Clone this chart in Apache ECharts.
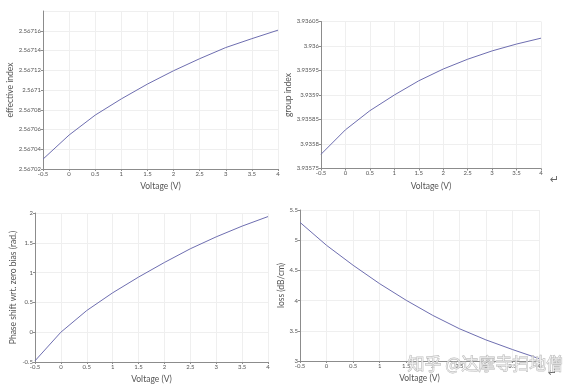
<!DOCTYPE html>
<html><head><meta charset="utf-8">
<script src="https://cdn.jsdelivr.net/npm/echarts@6/dist/echarts.min.js"></script>
<style>html,body{margin:0;padding:0;background:#fff}#c{width:587px;height:392px}</style>
</head><body><div id="c"></div>
<script>
const voltage = [-0.5, 0, 0.5, 1, 1.5, 2, 2.5, 3, 3.5, 4];
const effectiveIndex = [2.567030, 2.5670544, 2.5670746, 2.567091, 2.567106, 2.5671195, 2.5671317, 2.567143, 2.567152, 2.5671606];
const groupIndex = [3.935779, 3.935829, 3.935868, 3.9359, 3.935929, 3.935953, 3.935973, 3.93599, 3.936004, 3.936016];
const phaseShift = [-0.48, 0, 0.364, 0.661, 0.925, 1.17, 1.40, 1.60, 1.78, 1.94];
const loss = [5.295, 4.915, 4.585, 4.28, 4.005, 3.755, 3.535, 3.35, 3.19, 3.04];
const yNames = ['effective index', 'group index', 'Phase shift wrt. zero bias (rad.)', 'loss (dB/cm)'];
const xName = 'Voltage (V)';

const FONT = 'Lato, "Liberation Sans", sans-serif';
const axisColor = '#8c8c8c';
const labelColor = '#555';
const gridColor = '#efefef';

const grids = [
  {left: 43, top: 11, width: 235, height: 158},
  {left: 321, top: 21.5, width: 220, height: 147},
  {left: 35, top: 213, width: 233, height: 149},
  {left: 300, top: 210, width: 239, height: 151}
];
const yRanges = [
  {min: 2.56702, max: 2.56718, interval: 0.00002, showMax: false},
  {min: 3.93575, max: 3.93605, interval: 0.00005, showMax: true},
  {min: -0.5, max: 2, interval: 0.5, showMax: true},
  {min: 3, max: 5.5, interval: 0.5, showMax: true}
];
const yGaps = [27, 24, 17, 12];
const series = [effectiveIndex, groupIndex, phaseShift, loss];

function axisLineCfg() {
  return {show: true, onZero: false, lineStyle: {color: axisColor, width: 1}};
}
const tickCfg = {show: true, length: 2, lineStyle: {color: axisColor}};
const splitCfg = {show: true, lineStyle: {color: gridColor, width: 1}};

const option = {
  animation: false,
  backgroundColor: '#fff',
  textStyle: {fontFamily: FONT},
  grid: grids.map(g => Object.assign({containLabel: false}, g)),
  xAxis: grids.map((g, i) => ({
    gridIndex: i, type: 'value', min: -0.5, max: 4, interval: 0.5,
    axisLine: axisLineCfg(), axisTick: tickCfg, splitLine: splitCfg,
    name: xName, nameLocation: 'middle', nameGap: 13,
    nameTextStyle: {fontSize: 8.5, color: labelColor, fontFamily: FONT},
    axisLabel: {fontSize: 6, color: labelColor, margin: 2, fontFamily: FONT}
  })),
  yAxis: grids.map((g, i) => ({
    gridIndex: i, type: 'value', min: yRanges[i].min, max: yRanges[i].max, interval: yRanges[i].interval,
    axisLine: axisLineCfg(), axisTick: tickCfg, splitLine: splitCfg,
    name: yNames[i], nameLocation: 'middle', nameGap: yGaps[i], nameRotate: 90,
    nameTextStyle: {fontSize: 8.5, color: labelColor, fontFamily: FONT},
    axisLabel: {fontSize: 6, color: labelColor, margin: 2, fontFamily: FONT, showMaxLabel: yRanges[i].showMax}
  })),
  series: series.map((arr, i) => ({
    type: 'line', xAxisIndex: i, yAxisIndex: i, showSymbol: false, silent: true,
    lineStyle: {color: '#6e6eb0', width: 1},
    data: voltage.map((v, k) => [v, arr[k]])
  })),
  graphic: [
    {type: 'text', left: 550, top: 175, style: {text: '↵', fontSize: 11, fill: '#666', fontFamily: '"DejaVu Sans"'}},
    {type: 'text', left: 548, top: 368, style: {text: '↵', fontSize: 11, fill: '#666', fontFamily: '"DejaVu Sans"'}},
    {type: 'text', left: 407, top: 355, z: 100, style: {text: '知乎 @达摩寺扫地僧', fontSize: 17, fill: 'rgba(255,255,255,0.55)', stroke: '#b4b4b4', lineWidth: 0.8, fontFamily: '"Noto Sans CJK SC"'}}
  ]
};
const chart = echarts.init(document.getElementById('c'), null, {renderer: 'canvas'});
chart.setOption(option);
</script>
</body></html>
